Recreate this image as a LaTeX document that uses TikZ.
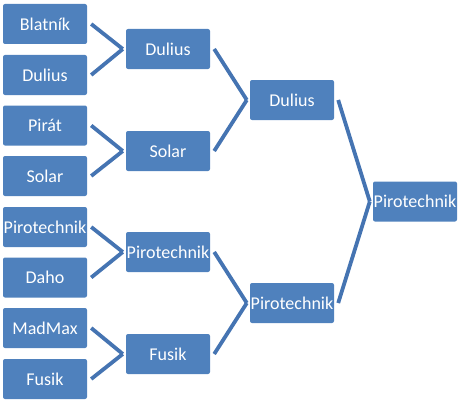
\documentclass[tikz,border=0pt]{standalone}
\usepackage{fontspec}
\setmainfont{Carlito}
\definecolor{boxblue}{HTML}{4F81BD}
\definecolor{lineblue}{HTML}{4574B2}
\begin{document}
\begin{tikzpicture}[x=1pt,y=-1pt,
  team/.style={fill=boxblue, draw=none, rounded corners=2pt, minimum width=84pt, minimum height=40pt, inner sep=0pt, text=white, font=\fontsize{18}{21}\selectfont},
  link/.style={draw=lineblue, line width=3.8pt}]
\useasboundingbox (0,0) rectangle (460,404);
% leaves
\node[team] (l1) at (45,24) {Blatník};
\node[team] (l2) at (45,75) {Dulius};
\node[team] (l3) at (45,125.5) {Pirát};
\node[team] (l4) at (45,176) {Solar};
\node[team] (l5) at (45,227) {Pirotechnik};
\node[team] (l6) at (45,277.5) {Daho};
\node[team] (l7) at (45,328) {MadMax};
\node[team] (l8) at (45,379) {Fusik};
% round 2
\node[team] (r1) at (168,49) {Dulius};
\node[team] (r2) at (168,151) {Solar};
\node[team] (r3) at (168,252) {Pirotechnik};
\node[team] (r4) at (168,354) {Fusik};
% round 3
\node[team] (s1) at (292,100) {Dulius};
\node[team] (s2) at (292,303) {Pirotechnik};
% final
\node[team] (f) at (415,201.5) {Pirotechnik};
% connectors
\foreach \a/\b in {l1/r1,l2/r1,l3/r2,l4/r2,l5/r3,l6/r3,l7/r4,l8/r4,r1/s1,r2/s1,r3/s2,r4/s2,s1/f,s2/f}{
  \draw[link] ([xshift=4pt]\a.east) -- ([xshift=-3pt]\b.west);
}
\end{tikzpicture}
\end{document}
